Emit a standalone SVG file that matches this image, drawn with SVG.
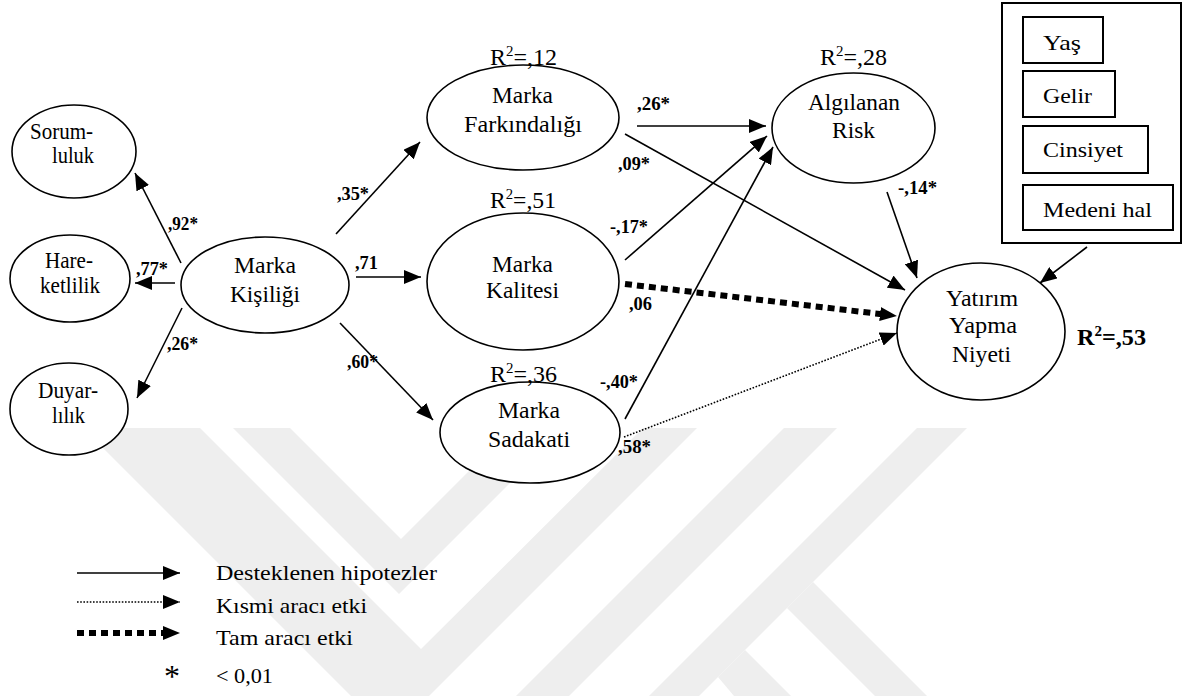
<svg xmlns="http://www.w3.org/2000/svg" width="1183" height="696" viewBox="0 0 1183 696">
  <defs>
    <style>
      .node ellipse { fill: #fff; stroke: #000; stroke-width: 1.6; }
      .box { fill: #fff; stroke: #000; stroke-width: 2; }
      text { font-family: "Liberation Serif", "Times New Roman", serif; fill: #000; }
      .lbl { font-size: 22.5px; }
      .coef { font-size: 18px; font-weight: bold; }
      .legend { font-size: 21.5px; }
      .solid { stroke: #000; stroke-width: 1.6; fill: none; }
      .dotted { stroke: #000; stroke-width: 1.6; stroke-dasharray: 1.6 1.6; fill: none; }
      .thick { stroke: #000; stroke-width: 6; stroke-dasharray: 7 5; fill: none; }
      .wm { fill: #eeeeee; }
    </style>
    <marker id="ah" viewBox="0 0 17 14" refX="17" refY="7" markerWidth="17" markerHeight="14" markerUnits="userSpaceOnUse" orient="auto">
      <path d="M0,0 L17,7 L0,14 z" fill="#000"/>
    </marker>
    <marker id="ahT" viewBox="0 0 17 14" refX="7" refY="7" markerWidth="17" markerHeight="14" markerUnits="userSpaceOnUse" orient="auto">
      <path d="M0,0 L17,7 L0,14 z" fill="#000"/>
    </marker>
  </defs>

  <rect x="0" y="0" width="1183" height="696" fill="#fff"/>

  <!-- faint background emblem -->
  <g id="emblem">
    <polygon class="wm" points="83,428 200,428 421,649 643,428 697,428 429,696 351,696"/>
    <polygon class="wm" points="233,428 290,428 401,539 512,428 565,428 399,594"/>
    <polygon class="wm" points="784,428 837,428 569,696 516,696"/>
    <polygon class="wm" points="917,428 967,428 699,696 649,696"/>
    <polygon class="wm" points="813,582 927,696 875,696 787,608"/>
    <polygon class="wm" points="745,650 791,696 734,696 718,677"/>
  </g>

  <!-- connectors -->
  <g id="connectors">
    <line class="solid" x1="181" y1="263" x2="135" y2="173" marker-end="url(#ah)"/>
    <line class="solid" x1="175" y1="283" x2="135" y2="283" marker-end="url(#ah)"/>
    <line class="solid" x1="182" y1="308" x2="137" y2="398" marker-end="url(#ah)"/>
    <line class="solid" x1="336" y1="234" x2="420" y2="142" marker-end="url(#ah)"/>
    <line class="solid" x1="356" y1="277" x2="421" y2="277" marker-end="url(#ah)"/>
    <line class="solid" x1="340" y1="323" x2="433" y2="420" marker-end="url(#ah)"/>
    <line class="solid" x1="637" y1="126" x2="766" y2="126" marker-end="url(#ah)"/>
    <line class="solid" x1="625" y1="134" x2="905" y2="290" marker-end="url(#ah)"/>
    <line class="solid" x1="625" y1="260" x2="767" y2="136" marker-end="url(#ah)"/>
    <line class="thick" x1="625" y1="284" x2="887" y2="314.8" marker-end="url(#ahT)"/>
    <line class="solid" x1="625" y1="419" x2="773" y2="147" marker-end="url(#ah)"/>
    <line class="dotted" x1="624" y1="437" x2="897" y2="333" marker-end="url(#ah)"/>
    <line class="solid" x1="887" y1="192" x2="917" y2="278" marker-end="url(#ah)"/>
    <line class="solid" x1="1087" y1="247" x2="1040" y2="283" marker-end="url(#ah)"/>

    <text class="coef" x="168" y="230" textLength="30" lengthAdjust="spacingAndGlyphs">,92*</text>
    <text class="coef" x="136" y="275" textLength="32" lengthAdjust="spacingAndGlyphs">,77*</text>
    <text class="coef" x="167" y="350" textLength="31" lengthAdjust="spacingAndGlyphs">,26*</text>
    <text class="coef" x="337" y="200" textLength="32" lengthAdjust="spacingAndGlyphs">,35*</text>
    <text class="coef" x="355" y="269" textLength="23" lengthAdjust="spacingAndGlyphs">,71</text>
    <text class="coef" x="347" y="368" textLength="31" lengthAdjust="spacingAndGlyphs">,60*</text>
    <text class="coef" x="637" y="110" textLength="33" lengthAdjust="spacingAndGlyphs">,26*</text>
    <text class="coef" x="618" y="170" textLength="32" lengthAdjust="spacingAndGlyphs">,09*</text>
    <text class="coef" x="610" y="233" textLength="38" lengthAdjust="spacingAndGlyphs">-,17*</text>
    <text class="coef" x="629" y="310" textLength="23" lengthAdjust="spacingAndGlyphs">,06</text>
    <text class="coef" x="600" y="388" textLength="38" lengthAdjust="spacingAndGlyphs">-,40*</text>
    <text class="coef" x="618" y="453" textLength="33" lengthAdjust="spacingAndGlyphs">,58*</text>
    <text class="coef" x="898" y="194" textLength="39" lengthAdjust="spacingAndGlyphs">-,14*</text>
  </g>

  <!-- personality dimensions -->
  <g id="sorumluluk" class="node">
    <ellipse cx="74" cy="151.5" rx="62" ry="46.5"/>
    <text class="lbl" x="30" y="139" textLength="63" lengthAdjust="spacingAndGlyphs">Sorum-</text>
    <text class="lbl" x="52" y="163" textLength="42" lengthAdjust="spacingAndGlyphs">luluk</text>
  </g>
  <g id="hareketlilik" class="node">
    <ellipse cx="70" cy="278.5" rx="60" ry="43.5"/>
    <text class="lbl" x="45" y="268" textLength="48" lengthAdjust="spacingAndGlyphs">Hare-</text>
    <text class="lbl" x="40" y="293" textLength="60" lengthAdjust="spacingAndGlyphs">ketlilik</text>
  </g>
  <g id="duyarlilik" class="node">
    <ellipse cx="69" cy="409" rx="59" ry="46"/>
    <text class="lbl" x="38" y="398" textLength="60" lengthAdjust="spacingAndGlyphs">Duyar-</text>
    <text class="lbl" x="52" y="423" textLength="33" lengthAdjust="spacingAndGlyphs">lılık</text>
  </g>
  <g id="marka-kisiligi" class="node">
    <ellipse cx="265" cy="285" rx="84" ry="48"/>
    <text class="lbl" x="234" y="273" textLength="62" lengthAdjust="spacingAndGlyphs">Marka</text>
    <text class="lbl" x="230" y="302" textLength="70" lengthAdjust="spacingAndGlyphs">Kişiliği</text>
  </g>

  <!-- mediators -->
  <g id="marka-farkindaligi" class="node">
    <ellipse cx="523" cy="117.5" rx="96" ry="52.5"/>
    <text class="lbl" x="490" y="65" textLength="67" lengthAdjust="spacingAndGlyphs">R<tspan font-size="14" dy="-9">2</tspan><tspan dy="9">=,12</tspan></text>
    <text class="lbl" x="492" y="103" textLength="61" lengthAdjust="spacingAndGlyphs">Marka</text>
    <text class="lbl" x="464" y="132" textLength="118" lengthAdjust="spacingAndGlyphs">Farkındalığı</text>
  </g>
  <g id="marka-kalitesi" class="node">
    <ellipse cx="523" cy="281.5" rx="96" ry="68.5"/>
    <text class="lbl" x="490" y="208" textLength="66" lengthAdjust="spacingAndGlyphs">R<tspan font-size="14" dy="-9">2</tspan><tspan dy="9">=,51</tspan></text>
    <text class="lbl" x="492" y="272" textLength="61" lengthAdjust="spacingAndGlyphs">Marka</text>
    <text class="lbl" x="486" y="298" textLength="73" lengthAdjust="spacingAndGlyphs">Kalitesi</text>
  </g>
  <g id="marka-sadakati" class="node">
    <ellipse cx="530" cy="432.5" rx="90" ry="50.5"/>
    <text class="lbl" x="490" y="382" textLength="67" lengthAdjust="spacingAndGlyphs">R<tspan font-size="14" dy="-9">2</tspan><tspan dy="9">=,36</tspan></text>
    <text class="lbl" x="498" y="418" textLength="62" lengthAdjust="spacingAndGlyphs">Marka</text>
    <text class="lbl" x="488" y="447" textLength="82" lengthAdjust="spacingAndGlyphs">Sadakati</text>
  </g>
  <g id="algilanan-risk" class="node">
    <ellipse cx="853.5" cy="128" rx="81.5" ry="55"/>
    <text class="lbl" x="820" y="65" textLength="67" lengthAdjust="spacingAndGlyphs">R<tspan font-size="14" dy="-9">2</tspan><tspan dy="9">=,28</tspan></text>
    <text class="lbl" x="808" y="110" textLength="92" lengthAdjust="spacingAndGlyphs">Algılanan</text>
    <text class="lbl" x="832" y="138" textLength="43" lengthAdjust="spacingAndGlyphs">Risk</text>
  </g>

  <!-- outcome -->
  <g id="yatirim-yapma-niyeti" class="node">
    <ellipse cx="981" cy="331.5" rx="84" ry="68.5"/>
    <text class="lbl" x="946" y="306" textLength="72" lengthAdjust="spacingAndGlyphs">Yatırım</text>
    <text class="lbl" x="949" y="333" textLength="68" lengthAdjust="spacingAndGlyphs">Yapma</text>
    <text class="lbl" x="952" y="362" textLength="59" lengthAdjust="spacingAndGlyphs">Niyeti</text>
    <text class="lbl" x="1077" y="345" font-weight="bold" textLength="69" lengthAdjust="spacingAndGlyphs">R<tspan font-size="14" dy="-9">2</tspan><tspan dy="9">=,53</tspan></text>
  </g>

  <!-- control variables -->
  <g id="kontrol">
    <rect class="box" x="1002" y="3" width="179" height="240"/>
    <rect class="box" x="1023" y="17" width="80" height="46"/>
    <text class="legend" x="1043" y="50" textLength="38" lengthAdjust="spacingAndGlyphs">Yaş</text>
    <rect class="box" x="1023" y="71" width="92" height="46"/>
    <text class="legend" x="1043" y="103" textLength="49" lengthAdjust="spacingAndGlyphs">Gelir</text>
    <rect class="box" x="1023" y="126" width="125" height="47"/>
    <text class="legend" x="1043" y="157" textLength="80" lengthAdjust="spacingAndGlyphs">Cinsiyet</text>
    <rect class="box" x="1023" y="185" width="150" height="45"/>
    <text class="legend" x="1043" y="217" textLength="109" lengthAdjust="spacingAndGlyphs">Medeni hal</text>
  </g>

  <!-- key -->
  <g id="legend">
    <line class="solid" x1="77" y1="573" x2="180" y2="573" stroke-width="2" marker-end="url(#ah)"/>
    <line class="dotted" x1="77" y1="602" x2="180" y2="602" marker-end="url(#ah)"/>
    <line class="thick" x1="77" y1="633" x2="170" y2="633" marker-end="url(#ahT)"/>
    <text class="legend" x="216" y="580" textLength="221" lengthAdjust="spacingAndGlyphs">Desteklenen hipotezler</text>
    <text class="legend" x="216" y="613" textLength="151" lengthAdjust="spacingAndGlyphs">Kısmi aracı etki</text>
    <text class="legend" x="216" y="645" textLength="137" lengthAdjust="spacingAndGlyphs">Tam aracı etki</text>
    <text x="172" y="687" font-size="32" text-anchor="middle">*</text>
    <text class="legend" x="216" y="683" textLength="57" lengthAdjust="spacingAndGlyphs">&lt; 0,01</text>
  </g>
</svg>
